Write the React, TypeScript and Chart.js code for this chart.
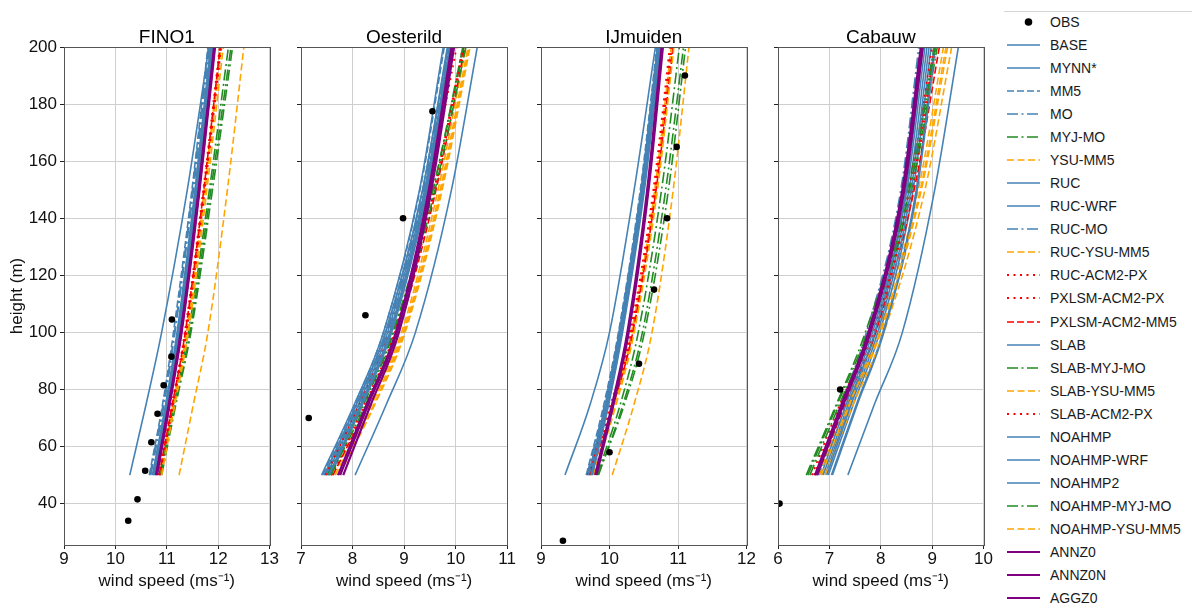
import React, { useEffect, useRef } from "react";
import { Chart, registerables } from "chart.js";

Chart.register(...registerables);

const FONT = "'Liberation Sans', Arial, Helvetica, sans-serif";

const HEIGHTS = [50, 75, 100, 150, 200];
const Y_TICKS = [40, 60, 80, 100, 120, 140, 160, 180, 200];

const MODELS = [
  "BASE", "MYNN*", "MM5", "MO", "MYJ-MO", "YSU-MM5", "RUC", "RUC-WRF", "RUC-MO",
  "RUC-YSU-MM5", "RUC-ACM2-PX", "PXLSM-ACM2-PX", "PXLSM-ACM2-MM5", "SLAB",
  "SLAB-MYJ-MO", "SLAB-YSU-MM5", "SLAB-ACM2-PX", "NOAHMP", "NOAHMP-WRF", "NOAHMP2",
  "NOAHMP-MYJ-MO", "NOAHMP-YSU-MM5", "ANNZ0", "ANNZ0N", "AGGZ0",
];

// style key per model (s = steel solid, sd = steel dashed, sdd = steel dash-dot,
// g = green dash-dot, o = orange dashed, r = red dotted, rd = red dashed, p = purple)
const MODEL_STYLE = [
  "s", "s", "sd", "sdd", "g", "o", "s", "s", "sdd", "o", "r", "r", "rd", "s",
  "g", "o", "r", "s", "s", "s", "g", "o", "p", "p", "p",
];

// wind speed at HEIGHTS, one row per model
const FINO1 = [
  [10.74, 10.99, 11.21, 11.56, 11.86],
  [10.28, 10.6, 10.9, 11.4, 11.82],
  [10.66, 10.92, 11.13, 11.49, 11.8],
  [10.69, 10.95, 11.16, 11.52, 11.83],
  [10.86, 11.14, 11.42, 11.83, 12.2],
  [10.88, 11.14, 11.4, 11.75, 12.06],
  [10.76, 11.01, 11.23, 11.58, 11.88],
  [10.72, 10.98, 11.2, 11.55, 11.85],
  [10.67, 10.93, 11.15, 11.5, 11.81],
  [10.86, 11.12, 11.38, 11.73, 12.04],
  [10.84, 11.1, 11.35, 11.71, 12.03],
  [10.87, 11.13, 11.38, 11.74, 12.06],
  [10.85, 11.11, 11.36, 11.72, 12.04],
  [10.75, 11.0, 11.22, 11.57, 11.87],
  [10.88, 11.16, 11.45, 11.86, 12.25],
  [11.24, 11.52, 11.8, 12.18, 12.5],
  [10.86, 11.12, 11.37, 11.73, 12.05],
  [10.77, 11.02, 11.24, 11.59, 11.89],
  [10.73, 10.99, 11.21, 11.56, 11.86],
  [10.78, 11.03, 11.25, 11.6, 11.9],
  [10.9, 11.18, 11.47, 11.89, 12.28],
  [10.9, 11.16, 11.42, 11.78, 12.1],
  [10.79, 11.04, 11.27, 11.62, 11.92],
  [10.8, 11.05, 11.28, 11.63, 11.93],
  [10.81, 11.06, 11.29, 11.64, 11.94],
];

const OESTERILD = [
  [7.45, 8.08, 8.64, 9.36, 9.84],
  [8.05, 8.66, 9.22, 9.92, 10.42],
  [7.42, 8.05, 8.6, 9.31, 9.78],
  [7.48, 8.1, 8.66, 9.38, 9.86],
  [7.55, 8.22, 8.8, 9.56, 10.16],
  [7.62, 8.34, 8.95, 9.66, 10.2],
  [7.5, 8.12, 8.68, 9.4, 9.88],
  [7.46, 8.08, 8.64, 9.36, 9.85],
  [7.52, 8.14, 8.7, 9.42, 9.9],
  [7.66, 8.38, 8.98, 9.7, 10.24],
  [7.48, 8.14, 8.72, 9.47, 10.02],
  [7.58, 8.24, 8.82, 9.58, 10.14],
  [7.62, 8.3, 8.88, 9.62, 10.18],
  [7.56, 8.18, 8.74, 9.44, 9.92],
  [7.52, 8.2, 8.78, 9.56, 10.14],
  [7.7, 8.42, 9.0, 9.72, 10.26],
  [7.6, 8.27, 8.84, 9.6, 10.16],
  [7.4, 8.04, 8.6, 9.3, 9.76],
  [7.54, 8.16, 8.72, 9.42, 9.9],
  [7.58, 8.2, 8.76, 9.46, 9.94],
  [7.58, 8.26, 8.84, 9.6, 10.2],
  [7.74, 8.44, 9.02, 9.74, 10.28],
  [7.72, 8.28, 8.84, 9.48, 9.92],
  [7.76, 8.31, 8.86, 9.5, 9.94],
  [7.82, 8.36, 8.9, 9.53, 9.97],
];

const IJMUIDEN = [
  [9.7, 9.95, 10.15, 10.47, 10.71],
  [9.35, 9.72, 10.0, 10.36, 10.67],
  [9.66, 9.92, 10.13, 10.45, 10.69],
  [9.68, 9.94, 10.15, 10.47, 10.72],
  [9.82, 10.16, 10.42, 10.76, 11.02],
  [9.76, 10.06, 10.32, 10.66, 10.9],
  [9.72, 9.97, 10.17, 10.49, 10.73],
  [9.71, 9.96, 10.16, 10.48, 10.72],
  [9.67, 9.93, 10.14, 10.46, 10.7],
  [9.77, 10.08, 10.34, 10.68, 10.92],
  [9.68, 10.02, 10.3, 10.64, 10.88],
  [9.7, 10.04, 10.32, 10.66, 10.9],
  [9.72, 10.06, 10.34, 10.68, 10.93],
  [9.74, 9.98, 10.18, 10.5, 10.74],
  [9.84, 10.2, 10.48, 10.82, 11.08],
  [10.04, 10.36, 10.62, 10.93, 11.16],
  [9.71, 10.05, 10.33, 10.67, 10.91],
  [9.73, 9.98, 10.18, 10.5, 10.74],
  [9.69, 9.94, 10.14, 10.46, 10.7],
  [9.75, 9.99, 10.19, 10.51, 10.75],
  [9.83, 10.22, 10.51, 10.86, 11.11],
  [9.78, 10.1, 10.36, 10.7, 10.94],
  [9.79, 10.04, 10.26, 10.55, 10.76],
  [9.8, 10.05, 10.27, 10.56, 10.77],
  [9.81, 10.06, 10.28, 10.57, 10.78],
];

const CABAUW = [
  [6.92, 7.4, 7.9, 8.55, 8.9],
  [7.36, 7.88, 8.42, 9.05, 9.51],
  [6.8, 7.29, 7.78, 8.44, 8.78],
  [6.76, 7.24, 7.72, 8.39, 8.74],
  [6.55, 7.14, 7.7, 8.52, 9.04],
  [6.8, 7.35, 7.94, 8.73, 9.22],
  [6.98, 7.47, 7.98, 8.63, 8.98],
  [7.04, 7.53, 8.04, 8.69, 9.04],
  [6.78, 7.26, 7.75, 8.41, 8.76],
  [6.86, 7.41, 8.0, 8.79, 9.3],
  [6.66, 7.21, 7.8, 8.55, 9.0],
  [6.72, 7.27, 7.86, 8.61, 9.08],
  [6.76, 7.31, 7.9, 8.65, 9.14],
  [6.88, 7.37, 7.88, 8.51, 8.86],
  [6.62, 7.2, 7.78, 8.6, 9.1],
  [6.92, 7.47, 8.06, 8.86, 9.38],
  [6.7, 7.25, 7.84, 8.59, 9.05],
  [7.06, 7.55, 8.06, 8.71, 9.06],
  [6.95, 7.43, 7.94, 8.59, 8.94],
  [6.84, 7.33, 7.84, 8.49, 8.82],
  [6.58, 7.16, 7.74, 8.56, 9.06],
  [6.84, 7.39, 7.98, 8.77, 9.27],
  [6.72, 7.24, 7.76, 8.42, 8.78],
  [6.74, 7.26, 7.78, 8.44, 8.8],
  [6.76, 7.28, 7.8, 8.46, 8.82],
];

// observations: [wind speed, height]
const OBS_FINO1 = [[10.25, 34], [10.43, 41.5], [10.58, 51.5], [10.7, 61.5], [10.82, 71.5], [10.94, 81.5], [11.09, 91.5], [11.1, 104.5]];
const OBS_OESTERILD = [[7.15, 70], [8.25, 106], [8.98, 140], [9.55, 177.5]];
const OBS_IJMUIDEN = [[9.32, 27], [10.0, 58], [10.43, 89], [10.65, 115], [10.84, 140], [10.98, 165], [11.1, 190]];
const OBS_CABAUW = [[6.03, 40], [7.21, 80]];

const X_TICKS_FINO1 = [9, 10, 11, 12, 13];
const X_TICKS_OESTERILD = [7, 8, 9, 10, 11];
const X_TICKS_IJMUIDEN = [9, 10, 11, 12];
const X_TICKS_CABAUW = [6, 7, 8, 9, 10];

const STYLE_DEFS: Record<string, { color: string; dash: number[]; width: number }> = {
  s: { color: "#4682b4", dash: [], width: 1.6 },
  sd: { color: "#4682b4", dash: [7, 3], width: 1.6 },
  sdd: { color: "#4682b4", dash: [11, 3.5, 2, 3.5], width: 1.6 },
  g: { color: "#228b22", dash: [11, 3.5, 2, 3.5], width: 1.6 },
  o: { color: "#ffa500", dash: [7, 3.5], width: 1.6 },
  r: { color: "#ff0000", dash: [2, 4.5], width: 1.8 },
  rd: { color: "#ff0000", dash: [7, 3], width: 1.6 },
  p: { color: "#800080", dash: [], width: 2.2 },
};

const framePlugin = {
  id: "frame",
  afterDraw(chart: any) {
    const { left, top, right, bottom } = chart.chartArea;
    const ctx = chart.ctx;
    ctx.save();
    ctx.strokeStyle = "#555";
    ctx.lineWidth = 1;
    ctx.strokeRect(Math.round(left) + 0.5, Math.round(top) + 0.5, Math.round(right - left), Math.round(bottom - top));
    ctx.restore();
  },
};

const PLOT_W = 201;
const RIGHT_PAD = 14;

function Panel(props: {
  title: string;
  values: number[][];
  obs: number[][];
  xTicks: number[];
  plotLeft: number;
  first: boolean;
}) {
  const { title, values, obs, xTicks, plotLeft, first } = props;
  const ref = useRef<HTMLCanvasElement>(null);
  const yAxisW = first ? plotLeft : 20;
  const canvasLeft = plotLeft - yAxisW;
  const canvasW = yAxisW + PLOT_W + RIGHT_PAD;

  useEffect(() => {
    if (!ref.current) return;
    const datasets: any[] = MODELS.map((name, i) => {
      const st = STYLE_DEFS[MODEL_STYLE[i]];
      return {
        label: name,
        data: HEIGHTS.map((h, k) => ({ x: values[i][k], y: h })),
        showLine: true,
        borderColor: st.color,
        backgroundColor: st.color,
        borderWidth: st.width,
        borderDash: st.dash,
        pointRadius: 0,
        pointHoverRadius: 0,
        cubicInterpolationMode: "monotone",
        fill: false,
        clip: 0,
        order: 100 - i,
      };
    });
    datasets.unshift({
      label: "OBS",
      data: obs.map(([x, y]) => ({ x, y })),
      showLine: false,
      pointRadius: 3.3,
      pointBackgroundColor: "#000",
      pointBorderColor: "#000",
      pointBorderWidth: 0,
      clip: 0,
      order: 0,
    });

    const tickFont = { family: FONT, size: 17 };
    const chart = new Chart(ref.current, {
      type: "scatter",
      data: { datasets },
      options: {
        animation: false,
        responsive: false,
        devicePixelRatio: 1,
        layout: { padding: 0 },
        events: [],
        plugins: {
          legend: { display: false },
          tooltip: { enabled: false },
          title: {
            display: true,
            text: title,
            fullSize: false,
            color: "#000",
            font: { family: FONT, size: 19, lineHeight: 1, weight: "normal" },
            padding: { top: 28, bottom: 0 },
          },
        },
        scales: {
          x: {
            type: "linear",
            min: xTicks[0],
            max: xTicks[xTicks.length - 1],
            afterBuildTicks: (s: any) => {
              s.ticks = xTicks.map((v) => ({ value: v }));
            },
            afterFit: (s: any) => {
              s.height = 59;
            },
            ticks: { font: tickFont, color: "#111", padding: 0, maxRotation: 0, autoSkip: false },
            grid: { color: "#cfcfcf", lineWidth: 1, tickColor: "#222", tickLength: 4, drawTicks: true },
            border: { color: "#555", width: 1 },
            title: {
              display: true,
              text: "wind speed (ms⁻¹)",
              color: "#111",
              font: { family: FONT, size: 17 },
              padding: { top: 0, bottom: 12.8 },
            },
          },
          y: {
            type: "linear",
            min: 25.5,
            max: 200,
            afterBuildTicks: (s: any) => {
              s.ticks = Y_TICKS.map((v) => ({ value: v }));
            },
            afterFit: (s: any) => {
              s.width = yAxisW;
            },
            ticks: {
              font: tickFont,
              color: "#111",
              padding: 3,
              autoSkip: false,
              callback: (v: any) => (first ? String(v) : ""),
            },
            grid: { color: "#cfcfcf", lineWidth: 1, tickColor: "#222", tickLength: 4, drawTicks: true },
            border: { color: "#555", width: 1 },
            title: {
              display: first,
              text: "height (m)",
              color: "#111",
              font: { family: FONT, size: 17 },
              padding: { top: 6.8, bottom: 0 },
            },
          },
        },
      } as any,
      plugins: [framePlugin],
    });
    return () => chart.destroy();
  }, []);

  return (
    <canvas
      ref={ref}
      width={canvasW}
      height={604}
      style={{ position: "absolute", left: canvasLeft, top: 0, width: canvasW, height: 604 }}
    />
  );
}

function LegendHandle({ styleKey }: { styleKey: string }) {
  if (styleKey === "obs") {
    return (
      <svg width={40} height={20} style={{ position: "absolute", left: 0, top: 0 }}>
        <circle cx={23.5} cy={10} r={3.8} fill="#000" />
      </svg>
    );
  }
  const st = STYLE_DEFS[styleKey];
  return (
    <svg width={40} height={20} style={{ position: "absolute", left: 0, top: 0 }}>
      <line
        x1={2}
        y1={10}
        x2={35}
        y2={10}
        stroke={st.color}
        strokeWidth={st.width}
        strokeDasharray={st.dash.length ? st.dash.join(" ") : undefined}
      />
    </svg>
  );
}

function Legend() {
  const entries = [{ name: "OBS", key: "obs" }, ...MODELS.map((m, i) => ({ name: m, key: MODEL_STYLE[i] }))];
  return (
    <>
      <div style={{ position: "absolute", left: 1004, top: 11, width: 188, height: 1, background: "#d4d4d4" }} />
      {entries.map((e, i) => {
        const cy = 22 + i * 23.04;
        return (
          <div key={e.name} style={{ position: "absolute", left: 1005, top: cy - 10, width: 187, height: 20 }}>
            <LegendHandle styleKey={e.key} />
            <div
              style={{
                position: "absolute",
                left: 45,
                top: 0,
                height: 20,
                lineHeight: "20px",
                fontFamily: FONT,
                fontSize: 14,
                color: "#1a1a1a",
                whiteSpace: "nowrap",
              }}
            >
              {e.name}
            </div>
          </div>
        );
      })}
    </>
  );
}

export default function App() {
  return (
    <div style={{ position: "absolute", left: 0, top: 0, width: 1192, height: 604, background: "#fff", overflow: "hidden" }}>
      <Panel title="FINO1" values={FINO1} obs={OBS_FINO1} xTicks={X_TICKS_FINO1} plotLeft={64} first={true} />
      <Panel title="Oesterild" values={OESTERILD} obs={OBS_OESTERILD} xTicks={X_TICKS_OESTERILD} plotLeft={301} first={false} />
      <Panel title="IJmuiden" values={IJMUIDEN} obs={OBS_IJMUIDEN} xTicks={X_TICKS_IJMUIDEN} plotLeft={541} first={false} />
      <Panel title="Cabauw" values={CABAUW} obs={OBS_CABAUW} xTicks={X_TICKS_CABAUW} plotLeft={778} first={false} />
      <Legend />
    </div>
  );
}
